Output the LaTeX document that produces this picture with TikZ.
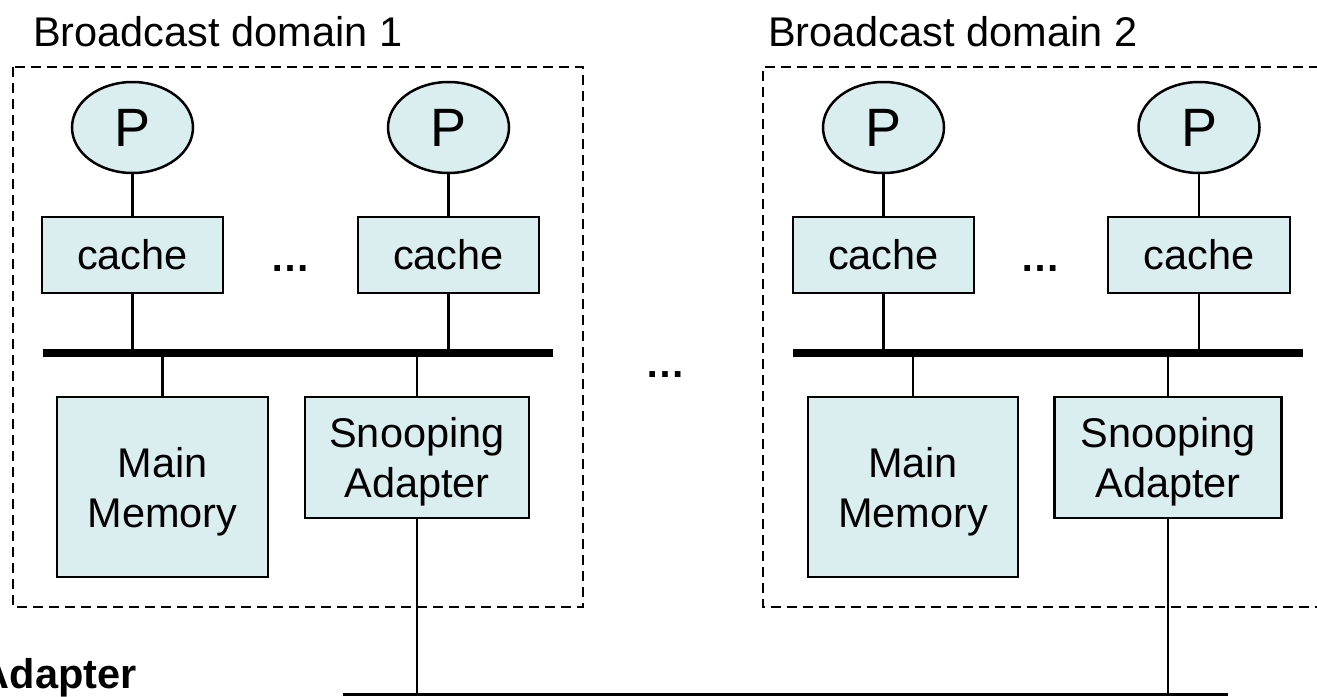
\documentclass[tikz,border=0pt]{standalone}
\usepackage{fontspec}
\setmainfont{Liberation Sans}
\usetikzlibrary{shapes.geometric}
\definecolor{unitfill}{HTML}{DAEDEF}
\newcommand{\toppad}{\rule{0pt}{39pt}}
\tikzset{
  unit/.style={draw=black, line width=2.5pt, fill=unitfill, inner sep=0pt, align=center,
    font=\fontsize{41.5}{50}\selectfont},
  cpu/.style={ellipse, draw=black, line width=2.5pt, fill=unitfill, inner sep=0pt,
    minimum width=121pt, minimum height=91pt, font=\fontsize{54}{54}\selectfont},
  link/.style={line width=2.3pt},
  bus/.style={line width=8pt},
  netline/.style={line width=3pt},
  domainbox/.style={line width=2.5pt, dash pattern=on 10pt off 6pt},
  title/.style={anchor=base west, inner sep=0pt, font=\fontsize{41.5}{50}\selectfont},
  gap/.style={inner sep=0pt, font=\fontsize{40}{40}\selectfont\bfseries}
}
\begin{document}
\begin{tikzpicture}[x=1pt, y=-1pt]
\useasboundingbox (0,0) rectangle (1317,696);

% domain outlines
\draw[domainbox] (13,67) rectangle (583,607);
\draw[domainbox] (1335,67) -- (763,67) -- (763,607) -- (1335,607);
\node[title] (t1) at (33,46) {Broadcast domain 1};
\node[title] (t2) at (768,46) {Broadcast domain 2};

% ---- domain 1 ----
\node[cpu] (p11) at (132.5,127.5) {P};
\node[cpu] (p12) at (448.5,127.5) {P};
\node[unit, minimum width=181pt, minimum height=76pt] (c11) at (132.5,255) {cache};
\node[unit, minimum width=181pt, minimum height=76pt] (c12) at (448.5,255) {cache};
\node[gap, anchor=base] (d11) at (290,271) {\ldots};
\coordinate (b1w) at (43,353);
\coordinate (b1e) at (553,353);
\node[unit, minimum width=211pt, minimum height=180pt] (m1) at (162.5,487) {\toppad Main\\Memory};
\node[unit, minimum width=224pt, minimum height=121pt] (s1) at (417,457.5) {\toppad Snooping\\Adapter};

% ---- domain 2 ----
\node[cpu] (p21) at (883.5,127.5) {P};
\node[cpu] (p22) at (1199,127.5) {P};
\node[unit, minimum width=181pt, minimum height=76pt] (c21) at (883.5,255) {cache};
\node[unit, minimum width=182pt, minimum height=76pt] (c22) at (1199,255) {cache};
\node[gap, anchor=base] (d21) at (1040,271) {\ldots};
\coordinate (b2w) at (793,353);
\coordinate (b2e) at (1303,353);
\node[unit, minimum width=210pt, minimum height=180pt] (m2) at (913,487) {\toppad Main\\Memory};
\node[unit, minimum width=227pt, minimum height=121pt] (s2) at (1168,457.5) {\toppad Snooping\\Adapter};

% dots between the domains
\node[gap, anchor=base] (dd) at (665,377) {\ldots};

% buses
\draw[bus] (b1w) -- (b1e);
\draw[bus] (b2w) -- (b2e);

% interconnect between snooping adapters
\coordinate (nw) at (343,694.5);
\coordinate (ne) at (1228,694.5);
\draw[netline] (nw) -- (ne);

% processors to caches
\foreach \p/\c in {p11/c11, p12/c12, p21/c21, p22/c22}
  \draw[link] (\p.south) -- (\c.north);
% caches down to the buses, memories and adapters up to the buses
\foreach \c in {c11, c12}
  \draw[link] (\c.south) -- (\c.south |- b1w);
\foreach \c in {c21, c22}
  \draw[link] (\c.south) -- (\c.south |- b2w);
\foreach \c in {m1, s1}
  \draw[link] (\c.north |- b1w) -- (\c.north);
\foreach \c in {m2, s2}
  \draw[link] (\c.north |- b2w) -- (\c.north);
% adapters down to the interconnect
\draw[link] (s1.south) -- (s1.south |- nw);
\draw[link] (s2.south) -- (s2.south |- nw);

% caption running in from the left edge
\node[anchor=base east, inner sep=0pt, font=\fontsize{41.5}{50}\selectfont\bfseries] (cap) at (137,688) {Adapter};
\end{tikzpicture}
\end{document}
